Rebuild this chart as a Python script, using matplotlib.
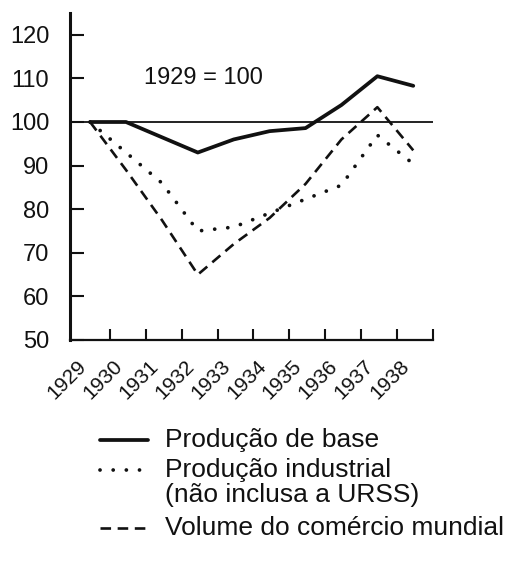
import matplotlib
matplotlib.use("Agg")
import matplotlib.pyplot as plt
from matplotlib.lines import Line2D

plt.rcParams['font.family'] = ['Liberation Sans', 'DejaVu Sans']

years = [1929, 1930, 1931, 1932, 1933, 1934, 1935, 1936, 1937, 1938]
producao_base = [100, 100, 96.5, 93, 96, 97.9, 98.6, 103.9, 110.5, 108.3]
producao_industrial = [100, 93, 86, 75, 75.9, 79.1, 82.3, 85.5, 97, 90.4]
volume_comercio = [100, 89, 77.5, 65, 72, 78, 85.8, 96, 103.4, 93.5]

series_labels = ["Produção de base",
                 "Produção industrial\n(não inclusa a URSS)",
                 "Volume do comércio mundial"]
y_ticks = [50, 60, 70, 80, 90, 100, 110, 120]
annotation = "1929 = 100"

W, H = 505, 563
fig = plt.figure(figsize=(W / 100, H / 100), dpi=100)
ax = fig.add_axes([70 / W, 1 - 340 / H, (433 - 70) / W, (340 - 13) / H])

ink = "#111111"
styles = [
    dict(color=ink, lw=2.7, linestyle="-", solid_capstyle="round", solid_joinstyle="round"),
    dict(color=ink, lw=2.7, linestyle=(0, (0.01, 3.5)), dash_capstyle="round"),
    dict(color=ink, lw=1.9, linestyle=(0, (4.0, 2.5)), dash_capstyle="butt"),
]
data = [producao_base, producao_industrial, volume_comercio]

ax.axhline(100, color=ink, lw=1.3, zorder=1)
for vals, st in zip(data, styles):
    ax.plot(years, vals, zorder=3, **st)

ax.set_xlim(years[0] - 0.56, years[-1] + 0.53)
ax.set_ylim(50, 125)

for s in ["top", "right"]:
    ax.spines[s].set_visible(False)
ax.spines["left"].set_linewidth(2.2)
ax.spines["bottom"].set_linewidth(1.6)
ax.spines["left"].set_color(ink)
ax.spines["bottom"].set_color(ink)

ax.set_yticks(y_ticks)
ax.set_yticklabels([str(v) for v in y_ticks])
ax.tick_params(axis="y", direction="in", length=10, width=1.5, pad=15,
               labelsize=17, colors=ink)

ax.set_xticks(years)
ax.set_xticklabels([str(y) for y in years], rotation=45, ha="right")
ax.tick_params(axis="x", which="major", length=0, pad=12, labelsize=15, colors=ink)
ax.set_xticks([y + 0.55 for y in years], minor=True)
ax.tick_params(axis="x", which="minor", direction="in", length=8, width=1.5, colors=ink)

ax.text(1930.5, 110, annotation, fontsize=17, ha="left", va="center", color=ink)

# legend drawn below the plot
row_y = [440, 470, 528]
for lab, st, yy in zip(series_labels, styles, row_y):
    fy = 1 - yy / H
    fig.add_artist(Line2D([100 / W, 148 / W], [fy, fy], transform=fig.transFigure, **st))
    lines = lab.split("\n")
    for k, txt in enumerate(lines):
        fig.text(165 / W, 1 - (yy + 25 * k) / H, txt, fontsize=19, ha="left",
                 va="center", color=ink)

fig.savefig("out.png", dpi=100)
